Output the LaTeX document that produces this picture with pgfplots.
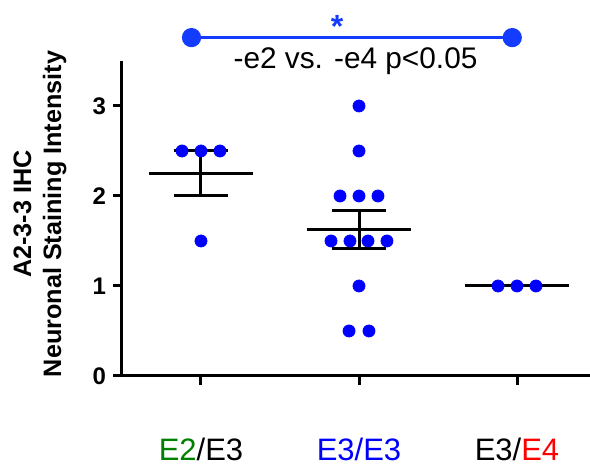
\documentclass[border=0pt]{standalone}
\usepackage{pgfplots}
\pgfplotsset{compat=1.18}
\usepackage{fontspec}
\setmainfont{Liberation Sans}
\definecolor{dotblue}{RGB}{0,0,255}
\definecolor{brblue}{RGB}{20,60,255}
\definecolor{lgreen}{RGB}{0,128,0}
\definecolor{lred}{RGB}{255,0,0}
\begin{document}
\begin{tikzpicture}
\begin{axis}[
  scale only axis, width=234pt, height=157.5pt,
  xmin=0.5, xmax=3.462, ymin=0, ymax=3.5,
  axis x line=bottom, axis y line=left,
  axis line style={-, line width=1.5pt},
  xtick={1,2,3}, xticklabels={,,}, ytick={0,1,2,3},
  tick align=outside, major tick length=4.5pt,
  every tick/.style={black, line width=1.5pt},
  yticklabel style={font=\fontsize{12}{14}\selectfont\bfseries},
  /pgf/number format/assume math mode=true,
  clip=false,
]
% individual points
\addplot[only marks, mark=*, mark size=3pt, mark options={draw=dotblue, fill=dotblue}] coordinates {
  (0.88,2.5) (1,2.5) (1.12,2.5) (1,1.5)
  (2,3) (2,2.5) (1.88,2) (2,2) (2.12,2)
  (1.823,1.5) (1.943,1.5) (2.057,1.5) (2.177,1.5)
  (2,1) (1.937,0.5) (2.063,0.5)
  (2.88,1) (3,1) (3.12,1)
};
% E2/E3 mean and SEM
\addplot[black, line width=1.5pt] coordinates {(0.668,2.25) (1.332,2.25)};
\addplot[black, line width=1.5pt] coordinates {(1,2.0) (1,2.5)};
\addplot[black, line width=1.5pt] coordinates {(0.826,2.0) (1.174,2.0)};
\addplot[black, line width=1.5pt] coordinates {(0.826,2.5) (1.174,2.5)};
% E3/E3 mean and SEM
\addplot[black, line width=1.5pt] coordinates {(1.668,1.625) (2.332,1.625)};
\addplot[black, line width=1.5pt] coordinates {(2,1.411) (2,1.839)};
\addplot[black, line width=1.5pt] coordinates {(1.826,1.411) (2.174,1.411)};
\addplot[black, line width=1.5pt] coordinates {(1.826,1.839) (2.174,1.839)};
% E3/E4 mean
\addplot[black, line width=1.5pt] coordinates {(2.668,1.0) (3.332,1.0)};
% significance bracket
\addplot[brblue, line width=1.6pt, mark=*, mark size=4pt, mark options={fill=brblue}] coordinates {(0.94,3.76) (2.97,3.76)};
\node[anchor=base, text=brblue, font=\fontsize{16}{18}\selectfont\bfseries] at (axis cs:1.861,3.76) {*};
\node[anchor=base, font=\fontsize{14.9}{17}\selectfont] at (axis cs:1.978,3.42) {-e2 vs. -e4 p<0.05};
% category labels
\node[anchor=base, font=\fontsize{15.5}{18}\selectfont] at (axis cs:1,-0.944) {\textcolor{lgreen}{E2}/E3};
\node[anchor=base, font=\fontsize{15.5}{18}\selectfont, text=dotblue] at (axis cs:2,-0.944) {E3/E3};
\node[anchor=base, font=\fontsize{15.5}{18}\selectfont] at (axis cs:3,-0.944) {E3/\textcolor{lred}{E4}};
% y label
\node[rotate=90, align=center, font=\fontsize{12.6}{15}\selectfont\bfseries] at ([xshift=-41pt]axis cs:0.5,1.8) {A2-3-3 IHC\\Neuronal Staining Intensity};
\end{axis}
\pgfresetboundingbox
\path[use as bounding box] ([shift={(-61pt,-46pt)}]current axis.south west) rectangle ([shift={(0pt,30.5pt)}]current axis.north east);
\end{tikzpicture}
\end{document}
